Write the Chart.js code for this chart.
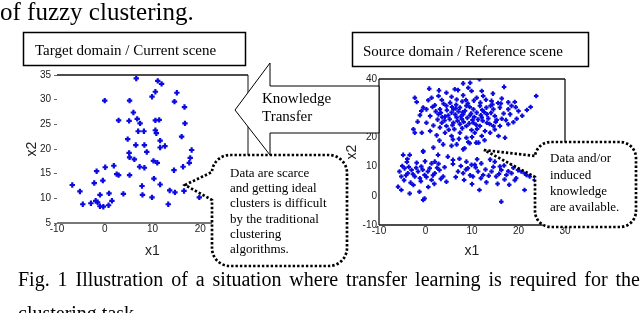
<!DOCTYPE html>
<html>
<head>
<meta charset="utf-8">
<script src="https://cdn.jsdelivr.net/npm/chart.js@4.4.1/dist/chart.umd.min.js"></script>
<style>
  html, body { margin: 0; padding: 0; background: #fff; }
  #page { position: relative; width: 640px; height: 313px; overflow: hidden; }
  canvas { position: absolute; }
  #left { left: 0; top: 60px; }
  #right { left: 330px; top: 60px; }
  svg { position: absolute; left: 0; top: 0; }
  #caption { position: absolute; left: 18px; top: 262px; width: 622px;
    font: 20px/34px 'Liberation Serif', serif; text-align: justify; }
</style>
</head>
<body>
<div id="page">
  <canvas id="left" width="260" height="200"></canvas>
  <canvas id="right" width="310" height="200"></canvas>
  <svg width="640" height="313" font-family="Liberation Serif, serif">
    <text x="0" y="20" font-size="25">of fuzzy clustering.</text>

    <rect x="23.5" y="32.5" width="222" height="33" fill="#fff" stroke="#000" stroke-width="1.5"/>
    <text x="35" y="55" font-size="15">Target domain / Current scene</text>
    <rect x="352.5" y="32.5" width="236" height="34" fill="#fff" stroke="#000" stroke-width="1.5"/>
    <text x="363" y="56" font-size="15">Source domain / Reference scene</text>

    <polygon points="235,110 270,63 270,86 379,86 379,133 270,133 270,155" fill="#fff" stroke="#000" stroke-width="1"/>
    <text x="262" y="103" font-size="15">Knowledge</text>
    <text x="262" y="121" font-size="15">Transfer</text>

    <path d="M185,185 L212,172 A18,18 0 0 1 230,155 L329,155 A18,18 0 0 1 347,173 L347,248 A18,18 0 0 1 329,266 L230,266 A18,18 0 0 1 212,248 L212,200 Z"
          fill="#fff" stroke="#000" stroke-width="2.7" stroke-dasharray="2.4 2"/>
    <g font-size="13">
      <text x="230" y="177">Data are scarce</text>
      <text x="230" y="192">and getting ideal</text>
      <text x="230" y="207">clusters is difficult</text>
      <text x="230" y="223">by the traditional</text>
      <text x="230" y="238">clustering</text>
      <text x="230" y="253">algorithms.</text>
    </g>

    <path d="M484,150 L535,156 A16,16 0 0 1 551,142 L620,142 A16,16 0 0 1 636,158 L636,211 A16,16 0 0 1 620,227 L551,227 A16,16 0 0 1 535,211 L535,177 Z"
          fill="#fff" stroke="#000" stroke-width="2.7" stroke-dasharray="2.4 2"/>
    <g font-size="13">
      <text x="550" y="162">Data and/or</text>
      <text x="550" y="179">induced</text>
      <text x="550" y="195">knowledge</text>
      <text x="550" y="211">are available.</text>
    </g>
  </svg>
  <div id="caption">Fig. 1 Illustration of a situation where transfer learning is required for the clustering task.</div>
</div>
<script>
// target domain (left plot)
const targetPoints = [
  [6.6,34.3],[11.1,33.8],[11.9,33.2],[10.6,31.6],[9.9,30.6],[15.1,31.4],[14.6,29.6],[0,29.8],
  [5.2,29.8],[16.7,28.5],[6.0,27.4],[6.8,26.1],[7.4,25.2],[5.1,25.7],[2.9,25.8],[10.6,25.8],
  [11.4,25.9],[16.8,25.2],[7.0,23.6],[8.2,23.6],[10.6,23.8],[10.8,23.2],[16.1,22.5],[4.8,22.0],
  [11.6,21.7],[6.5,20.8],[8.3,20.8],[11.6,20.3],[12.6,20.6],[18.2,19.8],[5.1,19.2],[8.8,19.4],
  [5.2,18.3],[6.2,17.9],[17.9,18.2],[17.7,17.2],[10.2,17.6],[11.0,17.2],[7.3,16.4],[8.3,16.2],
  [16.4,16.4],[14.5,15.7],[1.9,16.6],[0.1,16.3],[-1.7,15.5],[2.5,14.9],[2.9,14.7],[5.2,14.7],
  [10.3,14.0],[-2.2,13.1],[-0.4,13.6],[-6.8,12.7],[7.8,12.5],[11.6,12.8],[-5.2,11.4],[13.6,11.6],
  [14.7,11.2],[16.6,11.5],[-1.0,10.7],[0.9,11.0],[3.9,10.9],[7.9,10.7],[9.9,10.2],[19.8,10.2],
  [-4.6,8.8],[-2.9,9.0],[-1.9,9.5],[-1.5,9.2],[-1.0,8.4],[-0.3,8.3],[0.8,8.6],[1.5,9.5],[13.3,8.8]
];

// source domain (right plot), upper cluster
const sourceUpper = [
  [11.6,39.9],[9.6,38.7],[8.1,38.5],[16.9,37.3],[0.8,36.7],[6.3,36.5],[7.0,36.2],[9.2,37.0],
  [9.9,35.9],[12.1,35.9],[23.8,34.2],[-2.3,33.6],[-1.9,32.1],[1.3,33.6],[2.8,34.2],[3.5,32.8],
  [4.5,35.3],[5.6,33.9],[6.7,33.0],[8.1,34.4],[11.0,33.6],[12.4,34.2],[14.2,32.5],[16.4,33.3],
  [19.2,32.1],[18.5,30.8],[-0.5,30.2],[0.2,29.6],[2.0,31.0],[3.1,29.6],[4.5,30.8],[6.0,29.6],
  [7.4,30.2],[8.8,30.8],[10.3,29.6],[11.7,30.8],[13.1,30.2],[14.6,29.6],[16.0,30.2],[17.8,29.6],
  [20.0,29.0],[21.8,29.4],[-1.2,27.6],[1.0,27.3],[2.8,27.9],[4.2,27.1],[5.6,28.5],[6.7,26.8],
  [8.1,27.9],[9.6,27.6],[11.0,28.5],[12.1,26.8],[13.2,27.9],[14.9,27.3],[16.4,26.4],[18.2,27.9],
  [19.6,26.4],[0.2,25.0],[1.7,24.1],[3.5,25.0],[4.5,23.9],[6.0,25.0],[7.4,24.5],[8.8,23.9],
  [10.3,25.0],[11.7,23.9],[13.2,25.0],[14.6,23.9],[16.0,23.9],[17.8,24.5],[-2.6,22.8],[-2.3,21.6],
  [-0.8,21.6],[1.0,22.2],[2.4,20.7],[4.2,21.6],[5.6,20.5],[7.4,21.6],[8.8,19.9],[10.6,21.6],
  [12.1,20.5],[13.9,21.6],[15.7,20.5],[17.1,19.9],[3.8,17.6],[5.6,17.1],[6.7,17.6],[8.1,15.9],
  [9.2,18.4],[11.4,18.2],[1.7,16.5],[-0.5,15.3],[3.0,18.9],[9.5,18.0],[10.9,18.2],[8.4,16.3],
  [3.3,28.4],[4.9,27.5],[5.2,26.2],[6.4,27.8],[7.1,28.9],[7.8,26.3],[8.5,29.1],[9.0,26.7],
  [9.8,28.2],[10.5,27.0],[11.3,26.1],[12.6,28.7],[13.5,26.5],[14.1,28.4],[15.3,26.0],[4.1,25.8],
  [5.8,24.2],[6.9,25.6],[8.2,25.3],[9.4,24.8],[10.9,24.3],[12.3,25.7],[13.8,24.6],[15.1,25.3],
  [2.6,26.1],[3.9,31.5],[5.3,31.9],[6.6,31.2],[7.9,32.3],[9.1,31.6],[10.4,32.6],[11.8,31.9],
  [13.0,32.9],[14.4,31.3],[15.6,31.8],[2.2,28.9],[1.5,30.4],[6.2,22.8],[7.9,23.1],[9.9,22.5],
  [11.1,22.9],[12.8,22.2],[5.0,22.6],[3.1,23.4],[14.9,22.7],[16.8,28.2],[17.3,25.9],[18.9,25.2],
  [19.4,30.3],[0.6,32.7],[-0.9,29.0],[-1.7,25.4],[2.9,36.1],[14.5,35.0],[17.8,32.0],[20.8,27.4],
  [22.6,30.4],[5.9,19.3],[7.2,19.5],[10.0,20.1],[12.7,19.0],[4.6,29.3],[8.0,28.6],[9.5,30.4],
  [12.2,29.4],[10.1,26.0],[6.5,29.9],[7.6,27.2],[11.9,27.6],[14.0,30.8],[3.6,26.9],[16.2,31.6],
  [8.7,32.8],[5.7,30.4]
];

// source domain (right plot), lower band
const sourceLower = [
  [-4.8,14.0],[-3.4,14.0],[-0.5,15.1],[2.7,14.0],[4.8,13.4],[1.3,11.1],[2.0,11.7],[5.9,12.3],
  [5.9,10.9],[8.8,11.7],[10.6,10.6],[12.0,11.1],[14.9,11.7],[16.0,10.0],[18.5,11.1],[19.9,8.8],
  [21.3,7.7],[22.4,6.6],[23.5,5.4],[-5.6,8.3],[-5.2,6.6],[-4.5,9.4],[-3.8,7.7],[-3.0,8.8],
  [-2.3,6.6],[-1.6,8.3],[-0.9,10.0],[-0.2,7.1],[0.5,8.3],[1.3,5.4],[2.0,7.7],[3.0,8.8],
  [3.8,6.6],[-5.9,3.1],[-5.2,2.0],[-3.4,0.8],[-1.3,1.4],[-0.2,-0.9],[-0.5,-1.4],[4.5,4.8],
  [7.0,8.3],[8.1,7.7],[9.1,9.4],[10.2,6.6],[11.3,8.3],[12.4,7.1],[9.9,10.6],[11.6,2.0],
  [14.2,8.3],[15.2,6.6],[16.3,8.8],[17.4,7.1],[18.5,7.7],[19.5,6.0],[20.6,8.3],[21.7,7.1],
  [21.3,2.0],[16.3,-2.0],[-5.0,10.2],[-4.2,7.0],[-3.6,9.9],[-2.7,7.4],[-2.0,9.6],[-1.2,6.0],
  [-0.6,8.9],[0.2,6.4],[0.9,9.4],[1.6,7.0],[2.5,9.6],[3.3,5.8],[-4.6,5.3],[-3.2,4.5],
  [-1.9,11.3],[-0.1,11.8],[1.9,4.1],[-2.6,3.7],[0.6,3.0],[-4.0,11.6],[4.1,9.8],[2.8,11.0],
  [-1.0,5.0],[-3.9,12.6],[7.6,10.2],[8.7,9.0],[9.6,7.0],[10.8,9.7],[11.9,6.0],[12.9,9.0],
  [13.6,6.9],[14.6,9.9],[15.8,7.5],[16.9,10.4],[17.8,8.4],[18.9,9.6],[19.2,5.3],[20.3,9.9],
  [13.1,4.6],[15.5,4.1],[17.0,5.6],[8.3,5.4],[7.3,12.7],[11.1,12.5],[13.9,12.4],[6.5,6.4],
  [22.9,8.8],[10.0,4.0],[18.0,3.8]
];

const leftXTicks = [-10, 0, 10, 20, 30];
const leftYTicks = [5, 10, 15, 20, 25, 30, 35];
const rightXTicks = [-10, 0, 10, 20, 30];
const rightYTicks = [-10, 0, 10, 20, 30, 40];

const blue = 'rgb(10,10,225)';
Chart.defaults.font.family = "'Liberation Sans', Arial, sans-serif";

// axis box lines, drawn over the points like matlab does
const framePlugin = {
  id: 'frame',
  afterDatasetsDraw(chart, args, opts) {
    const { ctx, chartArea: a } = chart;
    ctx.save();
    for (const s of opts.sides || []) {
      ctx.strokeStyle = s.color;
      ctx.lineWidth = s.width;
      ctx.beginPath();
      if (s.side === 'top') { ctx.moveTo(a.left, a.top); ctx.lineTo(a.right, a.top); }
      if (s.side === 'bottom') { ctx.moveTo(a.left, a.bottom); ctx.lineTo(a.right, a.bottom); }
      if (s.side === 'left') { ctx.moveTo(a.left, a.top); ctx.lineTo(a.left, a.bottom); }
      if (s.side === 'right') { ctx.moveTo(a.right, a.top); ctx.lineTo(a.right, a.bottom); }
      ctx.stroke();
    }
    ctx.restore();
  }
};

const toXY = pts => pts.map(p => ({ x: p[0], y: p[1] }));
const tickFont = { size: 10 };

function scatter(id, sets, o) {
  return new Chart(document.getElementById(id), {
    type: 'scatter',
    data: {
      datasets: sets.map(pts => ({
        data: toXY(pts),
        pointStyle: 'cross',
        pointRadius: o.radius,
        pointHoverRadius: o.radius,
        borderColor: blue,
        backgroundColor: blue,
        borderWidth: o.lw
      }))
    },
    options: {
      responsive: false,
      animation: false,
      events: [],
      layout: { padding: o.padding },
      plugins: {
        legend: { display: false },
        tooltip: { enabled: false },
        frame: { sides: o.sides }
      },
      scales: {
        x: {
          type: 'linear', min: o.xTicks[0], max: o.xTicks[o.xTicks.length - 1],
          afterBuildTicks: s => { s.ticks = o.xTicks.map(v => ({ value: v })); },
          afterFit: s => { s.height = o.xHeight; },
          grid: { display: false, drawTicks: false },
          border: { display: false },
          ticks: { padding: 0, color: '#222', font: tickFont, autoSkip: false, maxRotation: 0 },
          title: { display: true, text: 'x1', color: '#222', font: { size: 14 }, padding: { top: o.xTitlePad, bottom: 0 } }
        },
        y: {
          type: 'linear', min: o.yTicks[0], max: o.yTicks[o.yTicks.length - 1],
          afterBuildTicks: s => { s.ticks = o.yTicks.map(v => ({ value: v })); },
          afterFit: s => { s.width = o.yWidth; },
          grid: { display: o.yTickMarks, drawOnChartArea: false, drawTicks: o.yTickMarks, tickLength: 3, color: '#666' },
          border: { display: false },
          ticks: { padding: o.yPad, color: '#222', font: tickFont, autoSkip: false },
          title: { display: true, text: 'x2', color: '#222', font: { size: 14 }, padding: { top: o.yTitlePad, bottom: 0 } }
        }
      }
    },
    plugins: [framePlugin]
  });
}

scatter('left', [targetPoints], {
  radius: 2.7, lw: 2.2,
  padding: { left: 0, right: 12, top: 15, bottom: 0 },
  xTicks: leftXTicks, yTicks: leftYTicks,
  xHeight: 37, yWidth: 57, yPad: 3, yTickMarks: true,
  xTitlePad: 6.6, yTitlePad: 23.6,
  sides: [
    { side: 'top', color: '#111', width: 1.6 },
    { side: 'bottom', color: '#777', width: 2 },
    { side: 'right', color: '#111', width: 1 }
  ]
});

scatter('right', [sourceUpper, sourceLower], {
  radius: 2.3, lw: 2,
  padding: { left: 0, right: 75, top: 19, bottom: 0 },
  xTicks: rightXTicks, yTicks: rightYTicks,
  xHeight: 35, yWidth: 49, yPad: 2, yTickMarks: false,
  xTitlePad: 4.6, yTitlePad: 13.6,
  sides: [
    { side: 'top', color: '#111', width: 1.3 },
    { side: 'bottom', color: '#111', width: 1.3 },
    { side: 'left', color: '#111', width: 1.3 },
    { side: 'right', color: '#111', width: 1.3 }
  ]
});
</script>
</body>
</html>
